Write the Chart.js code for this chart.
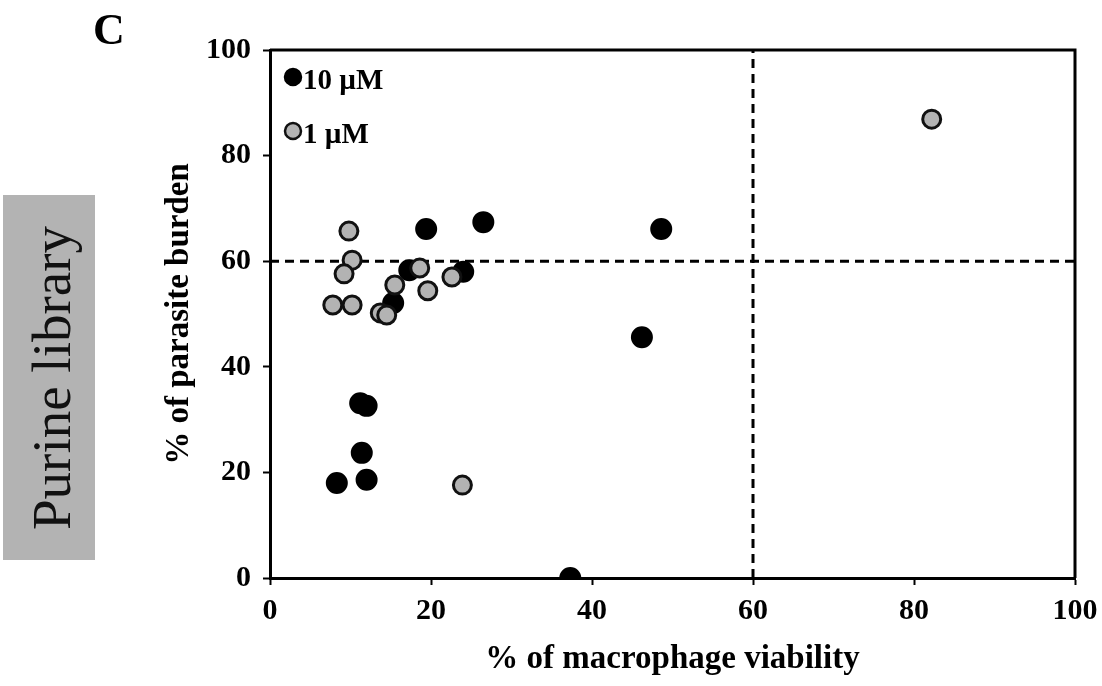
<!DOCTYPE html>
<html>
<head>
<meta charset="utf-8">
<script src="https://cdn.jsdelivr.net/npm/chart.js@4.4.1/dist/chart.umd.min.js"></script>
<style>
    body { margin: 0; background: #fff; }
    #wrap { position: relative; width: 1102px; height: 686px; }
    #panel { position: absolute; left: 93px; top: 8px; font: bold 44px "Liberation Serif", serif; line-height: 1; }
    #lib {
        position: absolute; left: 3px; top: 195px; width: 92px; height: 365px;
        background: #b3b3b3;
    }
    #lib span {
        position: absolute; left: 52%; top: 50%;
        transform: translate(-50%, -50%) rotate(-90deg);
        white-space: nowrap; font: 55px "Liberation Serif", serif; color: #111;
    }
</style>
</head>
<body>
<div id="wrap">
    <canvas id="grafico" width="1102" height="686"></canvas>
    <div id="panel">C</div>
    <div id="lib"><span>Purine library</span></div>
</div>
<script>
// 10 µM compounds: macrophage viability (%) vs parasite burden (%)
const viabilidad10 = [19.4, 26.5, 48.6, 17.3, 24.0, 15.3, 46.2, 11.2, 12.0, 11.4, 8.3, 12.0, 37.3];
const carga10 = [66.1, 67.4, 66.1, 58.3, 58.0, 52.1, 45.6, 33.1, 32.6, 23.7, 18.0, 18.6, 0];

// 1 µM compounds
const viabilidad1 = [82.2, 9.8, 10.2, 9.2, 7.8, 10.2, 13.7, 14.5, 15.5, 18.6, 19.6, 22.6, 23.9];
const carga1 = [86.9, 65.7, 60.2, 57.6, 51.7, 51.7, 50.2, 49.8, 55.5, 58.7, 54.4, 57.0, 17.6];

const umbral = 60;
const ticksX = [0, 20, 40, 60, 80, 100];
const ticksY = [0, 20, 40, 60, 80, 100];

const fuente = "'Liberation Serif', 'Times New Roman', serif";

function puntos(xs, ys) {
    return xs.map((x, i) => ({ x: x, y: ys[i] }));
}

// legend drawn inside the plot, top left corner
const leyendaInterna = {
    id: "leyendaInterna",
    afterDraw(chart) {
        const ctx = chart.ctx;
        const area = chart.chartArea;
        const items = chart.data.datasets.filter(d => d.enLeyenda);
        ctx.save();
        items.forEach((d, i) => {
            const cx = area.left + 23;
            const cy = area.top + 27 + i * 54;
            ctx.beginPath();
            ctx.arc(cx, cy, 8, 0, Math.PI * 2);
            ctx.fillStyle = d.backgroundColor;
            ctx.fill();
            ctx.lineWidth = 2.5;
            ctx.strokeStyle = d.borderColor;
            ctx.stroke();
            ctx.fillStyle = "#000";
            ctx.font = "bold 29px " + fuente;
            ctx.textBaseline = "middle";
            ctx.fillText(d.label, cx + 10, cy + 5);
        });
        ctx.restore();
    }
};

// plot frame on top and right
const marco = {
    id: "marco",
    beforeDatasetsDraw(chart) {
        const ctx = chart.ctx;
        const a = chart.chartArea;
        ctx.save();
        ctx.strokeStyle = "#000";
        ctx.lineWidth = 3;
        ctx.beginPath();
        ctx.moveTo(a.left, a.top);
        ctx.lineTo(a.right, a.top);
        ctx.lineTo(a.right, a.bottom);
        ctx.stroke();
        ctx.restore();
    }
};

const ctx = document.getElementById("grafico").getContext("2d");
new Chart(ctx, {
    type: "scatter",
    data: {
        datasets: [
            {
                label: "10 µM", enLeyenda: true, order: 2,
                data: puntos(viabilidad10, carga10),
                backgroundColor: "#000", borderColor: "#000",
                pointRadius: 10, pointBorderWidth: 2
            },
            {
                label: "1 µM", enLeyenda: true, order: 1,
                data: puntos(viabilidad1, carga1),
                backgroundColor: "#b3b3b3", borderColor: "#111",
                pointRadius: 9, pointBorderWidth: 3
            },
            {
                label: "corte y", type: "line", order: 3,
                data: [{ x: 0, y: umbral }, { x: 100, y: umbral }],
                borderColor: "#000", borderWidth: 3, borderDash: [9, 6],
                pointRadius: 0, fill: false
            },
            {
                label: "corte x", type: "line", order: 3,
                data: [{ x: umbral, y: 0 }, { x: umbral, y: 100 }],
                borderColor: "#000", borderWidth: 3, borderDash: [9, 6],
                pointRadius: 0, fill: false
            }
        ]
    },
    options: {
        responsive: false,
        animation: false,
        layout: { padding: { left: 156, top: 50, right: 27, bottom: 7 } },
        plugins: { legend: { display: false }, tooltip: { enabled: false } },
        scales: {
            x: {
                type: "linear", min: 0, max: 100,
                afterBuildTicks: s => { s.ticks = ticksX.map(v => ({ value: v })); },
                afterFit: s => { s.height = 108 - 7; s.paddingRight = 0; },
                grid: { drawOnChartArea: false, drawTicks: true, tickLength: 7, tickWidth: 2, color: "#000" },
                border: { color: "#000", width: 3 },
                ticks: { color: "#000", padding: 8, font: { family: fuente, size: 30, weight: "bold" } },
                title: {
                    display: true, text: "% of macrophage viability", color: "#000",
                    padding: { top: 10, bottom: 0 },
                    font: { family: fuente, size: 33, weight: "bold" }
                }
            },
            y: {
                type: "linear", min: 0, max: 100,
                afterBuildTicks: s => { s.ticks = ticksY.map(v => ({ value: v })); },
                afterFit: s => { s.width = 114; },
                grid: { drawOnChartArea: false, drawTicks: true, tickLength: 7, tickWidth: 2, color: "#000" },
                border: { color: "#000", width: 3 },
                ticks: { color: "#000", padding: 12, font: { family: fuente, size: 30, weight: "bold" } },
                title: {
                    display: true, text: "% of parasite burden", color: "#000",
                    padding: { top: 4, bottom: 4 },
                    font: { family: fuente, size: 33, weight: "bold" }
                }
            }
        }
    },
    plugins: [leyendaInterna, marco]
});
</script>
</body>
</html>
